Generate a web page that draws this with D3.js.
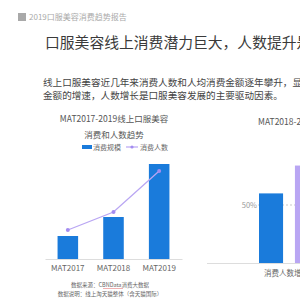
<!DOCTYPE html>
<html>
<head>
<meta charset="utf-8">
<script src="https://cdn.jsdelivr.net/npm/d3@7"></script>
<style>
  body { margin: 0; background: #fff; }
  svg { display: block; }
</style>
</head>
<body>
<div id="container"></div>
<script>
// left chart data
let years = ["MAT2017", "MAT2018", "MAT2019"];
let spendScale = [23, 42, 95];     // 消费规模 (relative)
let buyerCount = [29, 47, 88];     // 消费人数 (relative)

// right chart data
let growthCats = ["消费人数增长"];
let growthSeries = ["人数", "金额"];
let growthValues = [60, 84];       // percent
let growthTicks = [50];

let w = 300;
let h = 300;
let font = "'Noto Sans CJK SC', 'Noto Sans', sans-serif";

let viz = d3.select("#container")
  .append("svg")
    .attr("width", w)
    .attr("height", h)
    .style("background-color", "white")
;

// header
viz.append("rect").attr("x", 18).attr("y", 13).attr("width", 8).attr("height", 8).attr("fill", "#a9a9a9");
viz.append("text")
  .attr("x", 29).attr("y", 20)
  .attr("font-family", font).attr("font-size", 8).attr("fill", "#aaa")
  .text("2019口服美容消费趋势报告");

viz.append("text")
  .attr("x", 45).attr("y", 48)
  .attr("font-family", font).attr("font-size", 14.8).attr("fill", "#3a3a3a")
  .text("口服美容线上消费潜力巨大，人数提升是驱动");

let para = ["线上口服美容近几年来消费人数和人均消费金额逐年攀升，显著",
            "金额的增速，人数增长是口服美容发展的主要驱动因素。"];
viz.selectAll(".para").data(para).enter().append("text")
  .attr("class", "para")
  .attr("x", 43).attr("y", function(d, i){ return 86 + i*13; })
  .attr("font-family", font).attr("font-size", 9.6).attr("fill", "#444")
  .text(function(d){ return d; });

// ---- left chart ----
let xScale = d3.scaleBand().domain(years).range([45, 182]).paddingInner(0.55).paddingOuter(0.275);
let yScale = d3.scaleLinear().domain([0, 100]).range([259, 159]);
let yScale2 = d3.scaleLinear().domain([0, 100]).range([259, 159]);

viz.append("text").attr("x", 114).attr("y", 122).attr("text-anchor", "middle")
  .attr("font-family", font).attr("font-size", 8.5).attr("fill", "#555")
  .text("MAT2017-2019线上口服美容");
viz.append("text").attr("x", 114).attr("y", 138).attr("text-anchor", "middle")
  .attr("font-family", font).attr("font-size", 8.5).attr("fill", "#555")
  .text("消费和人数趋势");

// legend
viz.append("rect").attr("x", 82).attr("y", 145).attr("width", 10).attr("height", 4).attr("fill", "#1a7bdb");
viz.append("text").attr("x", 93).attr("y", 150)
  .attr("font-family", font).attr("font-size", 7).attr("fill", "#666").text("消费规模");
viz.append("line").attr("x1", 126).attr("x2", 138).attr("y1", 147).attr("y2", 147)
  .attr("stroke", "#b9a6f3").attr("stroke-width", 1.2);
viz.append("circle").attr("cx", 132).attr("cy", 147).attr("r", 1.6).attr("fill", "#a38cf0");
viz.append("text").attr("x", 140).attr("y", 150)
  .attr("font-family", font).attr("font-size", 7).attr("fill", "#666").text("消费人数");

viz.selectAll(".bar").data(spendScale).enter().append("rect")
  .attr("class", "bar")
  .attr("x", function(d, i){ return xScale(years[i]); })
  .attr("width", xScale.bandwidth())
  .attr("y", function(d){ return yScale(d); })
  .attr("height", function(d){ return yScale(0) - yScale(d); })
  .attr("fill", "#1a7bdb");

let xAxisGroup = viz.append("g").attr("transform", "translate(0, 259)");
xAxisGroup.call(d3.axisBottom(xScale).tickSize(0).tickPadding(6));
xAxisGroup.select(".domain").attr("stroke", "#ddd");
xAxisGroup.selectAll("text").attr("font-family", font).attr("font-size", 8).attr("fill", "#666");

let line = d3.line()
  .x(function(d, i){ return xScale(years[i]) + xScale.bandwidth()/2; })
  .y(function(d){ return yScale2(d); });
viz.append("path").datum(buyerCount)
  .attr("d", line).attr("fill", "none").attr("stroke", "#b9a6f3").attr("stroke-width", 1.3);
viz.selectAll(".dot").data(buyerCount).enter().append("circle")
  .attr("class", "dot")
  .attr("cx", function(d, i){ return xScale(years[i]) + xScale.bandwidth()/2; })
  .attr("cy", function(d){ return yScale2(d); })
  .attr("r", 2).attr("fill", "#a38cf0");

viz.append("text").attr("x", 110).attr("y", 287).attr("text-anchor", "middle")
  .attr("font-family", font).attr("font-size", 5.5).attr("fill", "#666")
  .text("数据来源：CBNData消费大数据");
viz.append("line").attr("x1", 103).attr("x2", 123).attr("y1", 288.5).attr("y2", 288.5)
  .attr("stroke", "#e06060").attr("stroke-width", 0.5);
viz.append("text").attr("x", 110).attr("y", 296).attr("text-anchor", "middle")
  .attr("font-family", font).attr("font-size", 5.5).attr("fill", "#666")
  .text("数据说明：线上淘天猫整体（含天猫国际）");

// ---- right chart ----
let gx0 = d3.scaleBand().domain(growthCats).range([207, 369]).padding(0);
let gx1 = d3.scaleBand().domain(growthSeries).range([52, 112]).paddingInner(0.33);
let gy = d3.scaleLinear().domain([0, 100]).range([263, 147]);
let growthColors = ["#1a7bdb", "#b9a6f3"];

viz.append("text").attr("x", 258).attr("y", 125)
  .attr("font-family", font).attr("font-size", 8.5).attr("fill", "#555")
  .text("MAT2018-2019消费增长贡献");

viz.selectAll(".gtick").data(growthTicks).enter().append("line")
  .attr("class", "gtick")
  .attr("x1", 258).attr("x2", 300)
  .attr("y1", function(d){ return gy(d); }).attr("y2", function(d){ return gy(d); })
  .attr("stroke", "#bbb").attr("stroke-width", 0.8).attr("stroke-dasharray", "2,2");
viz.selectAll(".gtickLabel").data(growthTicks).enter().append("text")
  .attr("class", "gtickLabel")
  .attr("x", 257).attr("y", function(d){ return gy(d) + 3; }).attr("text-anchor", "end")
  .attr("font-family", font).attr("font-size", 7.5).attr("fill", "#999")
  .text(function(d){ return d + "%"; });

viz.selectAll(".gbar").data(growthValues).enter().append("rect")
  .attr("class", "gbar")
  .attr("x", function(d, i){ return gx0(growthCats[0]) + gx1(growthSeries[i]); })
  .attr("width", gx1.bandwidth())
  .attr("y", function(d){ return gy(d); })
  .attr("height", function(d){ return gy(0) - gy(d); })
  .attr("fill", function(d, i){ return growthColors[i]; });

viz.append("line").attr("x1", 207).attr("x2", 300).attr("y1", 263.5).attr("y2", 263.5)
  .attr("stroke", "#ddd");
viz.append("text").attr("x", 264).attr("y", 276)
  .attr("font-family", font).attr("font-size", 7.5).attr("fill", "#666")
  .text("消费人数增长贡献");
</script>
</body>
</html>
